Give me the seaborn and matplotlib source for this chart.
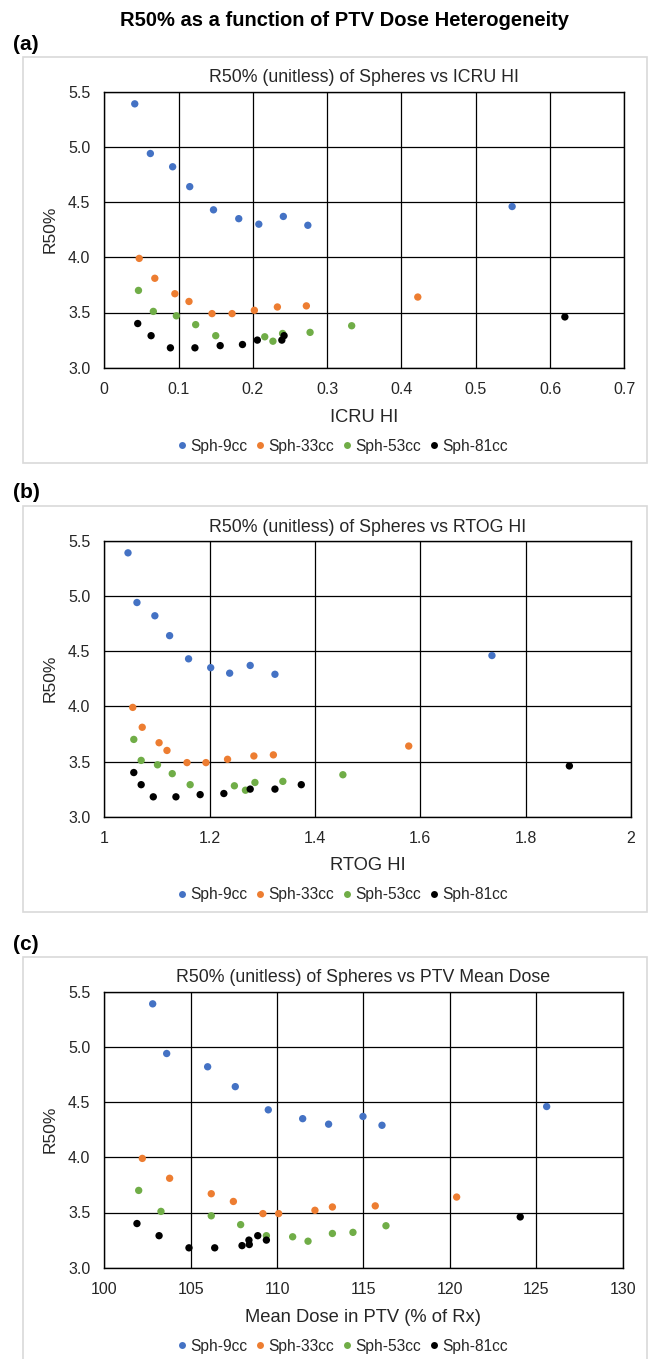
import matplotlib
matplotlib.use("Agg")
import matplotlib.pyplot as plt
from matplotlib.patches import Rectangle
from matplotlib.lines import Line2D
import seaborn as sns
import pandas as pd

# ---------------- data ----------------
spheres = ["Sph-9cc", "Sph-33cc", "Sph-53cc", "Sph-81cc"]

r50_9cc = [5.39, 4.94, 4.82, 4.64, 4.43, 4.35, 4.30, 4.37, 4.29, 4.46]
r50_33cc = [3.99, 3.81, 3.67, 3.60, 3.49, 3.49, 3.52, 3.55, 3.56, 3.64]
r50_53cc = [3.70, 3.51, 3.47, 3.39, 3.29, 3.28, 3.24, 3.31, 3.32, 3.38]
r50_81cc = [3.40, 3.29, 3.18, 3.18, 3.20, 3.21, 3.25, 3.25, 3.29, 3.46]

icru_9cc = [0.041, 0.062, 0.092, 0.115, 0.147, 0.181, 0.208, 0.241, 0.274, 0.549]
icru_33cc = [0.047, 0.068, 0.095, 0.114, 0.145, 0.172, 0.202, 0.233, 0.272, 0.422]
icru_53cc = [0.046, 0.066, 0.097, 0.123, 0.150, 0.216, 0.227, 0.240, 0.277, 0.333]
icru_81cc = [0.045, 0.063, 0.089, 0.122, 0.156, 0.186, 0.206, 0.239, 0.242, 0.620]

rtog_9cc = [1.045, 1.062, 1.096, 1.124, 1.160, 1.202, 1.238, 1.277, 1.324, 1.736]
rtog_33cc = [1.054, 1.072, 1.104, 1.119, 1.157, 1.193, 1.234, 1.284, 1.321, 1.578]
rtog_53cc = [1.056, 1.070, 1.101, 1.129, 1.163, 1.247, 1.268, 1.286, 1.339, 1.453]
rtog_81cc = [1.056, 1.070, 1.093, 1.136, 1.182, 1.227, 1.277, 1.324, 1.374, 1.883]

dose_9cc = [102.80, 103.61, 105.98, 107.58, 109.49, 111.48, 112.98, 114.97, 116.07, 125.60]
dose_33cc = [102.20, 103.78, 106.19, 107.47, 109.18, 110.09, 112.19, 113.20, 115.68, 120.39]
dose_53cc = [101.99, 103.28, 106.19, 107.89, 109.38, 110.90, 111.79, 113.20, 114.39, 116.30]
dose_81cc = [101.89, 103.17, 104.90, 106.39, 107.97, 108.39, 108.37, 109.38, 108.88, 124.07]

xticks_a = [0, 0.1, 0.2, 0.3, 0.4, 0.5, 0.6, 0.7]
xticklabels_a = ["0", "0.1", "0.2", "0.3", "0.4", "0.5", "0.6", "0.7"]
xticks_b = [1, 1.2, 1.4, 1.6, 1.8, 2]
xticklabels_b = ["1", "1.2", "1.4", "1.6", "1.8", "2"]
xticks_c = [100, 105, 110, 115, 120, 125, 130]
xticklabels_c = ["100", "105", "110", "115", "120", "125", "130"]
yticks = [3.0, 3.5, 4.0, 4.5, 5.0, 5.5]
yticklabels = ["3.0", "3.5", "4.0", "4.5", "5.0", "5.5"]

colors = {"Sph-9cc": "#4472C4", "Sph-33cc": "#ED7D31",
          "Sph-53cc": "#70AD47", "Sph-81cc": "#000000"}

r50 = [r50_9cc, r50_33cc, r50_53cc, r50_81cc]
panels = [
    dict(tag="(a)", title="R50% (unitless) of Spheres vs ICRU HI", xlabel="ICRU HI",
         xs=[icru_9cc, icru_33cc, icru_53cc, icru_81cc], xlim=(0, 0.7),
         xticks=xticks_a, xtl=xticklabels_a, right=624.3),
    dict(tag="(b)", title="R50% (unitless) of Spheres vs RTOG HI", xlabel="RTOG HI",
         xs=[rtog_9cc, rtog_33cc, rtog_53cc, rtog_81cc], xlim=(1, 2),
         xticks=xticks_b, xtl=xticklabels_b, right=631.0),
    dict(tag="(c)", title="R50% (unitless) of Spheres vs PTV Mean Dose",
         xlabel="Mean Dose in PTV (% of Rx)",
         xs=[dose_9cc, dose_33cc, dose_53cc, dose_81cc], xlim=(100, 130),
         xticks=xticks_c, xtl=xticklabels_c, right=622.7),
]

# ---------------- style ----------------
sns.set_theme(style="white")
plt.rcParams["font.family"] = ["Liberation Sans", "DejaVu Sans"]

W, H = 653, 1359
fig = plt.figure(figsize=(W / 100, H / 100), dpi=100)
fig.patch.set_facecolor("white")

def fx(px):
    return px / W

def fy(py):
    return 1 - py / H

fig.text(fx(344), fy(20), "R50% as a function of PTV Dose Heterogeneity",
         ha="center", va="center", fontsize=14.5, fontweight="bold", color="#000000")

offsets = [0, 449, 900]
for p, o in zip(panels, offsets):
    # chart-area frame
    fig.patches.append(Rectangle((fx(23), fy(463 + o)), fx(647) - fx(23),
                                 fy(57 + o) - fy(463 + o), transform=fig.transFigure,
                                 fill=False, edgecolor="#d9d9d9", lw=1.2, zorder=0))
    fig.text(fx(13), fy(44 + o), p["tag"], ha="left", va="center",
             fontsize=15, fontweight="bold", color="#000000")

    left, top, bottom = 104.3, 91.7 + o, 367.7 + o
    ax = fig.add_axes([fx(left), fy(bottom), fx(p["right"]) - fx(left),
                       fy(top) - fy(bottom)])

    rows = []
    for name, xv, yv in zip(spheres, p["xs"], r50):
        for a, b in zip(xv, yv):
            rows.append((name, a, b))
    df = pd.DataFrame(rows, columns=["sphere", "x", "r50"])
    sns.scatterplot(data=df, x="x", y="r50", hue="sphere", palette=colors,
                    hue_order=spheres, s=28, linewidth=0, legend=False, ax=ax,
                    zorder=3)

    ax.set_xlim(*p["xlim"])
    ax.set_ylim(3.0, 5.5)
    ax.set_xticks(p["xticks"])
    ax.set_xticklabels(p["xtl"])
    ax.set_yticks(yticks)
    ax.set_yticklabels(yticklabels)
    ax.tick_params(axis="both", length=0, labelsize=11.5, colors="#262626")
    ax.tick_params(axis="x", pad=10)
    ax.tick_params(axis="y", pad=10)
    ax.grid(True, color="#000000", lw=0.9)
    ax.set_axisbelow(True)
    for sp in ax.spines.values():
        sp.set_visible(True)
        sp.set_color("#000000")
        sp.set_linewidth(1.0)
    ax.set_xlabel("")
    ax.set_ylabel("")

    cx = (left + p["right"]) / 2
    fig.text(fx(cx), fy(78 + o), p["title"], ha="center", va="center",
             fontsize=12.8, color="#262626")
    fig.text(fx(cx), fy(417 + o), p["xlabel"], ha="center", va="center",
             fontsize=13.2, color="#262626")
    fig.text(fx(50), fy((top + bottom) / 2), "R50%", ha="center", va="center",
             rotation=90, fontsize=12.5, color="#262626")

    handles = [Line2D([], [], marker="o", linestyle="", markersize=5.0,
                      markerfacecolor=colors[s], markeredgewidth=0, label=s)
               for s in spheres]
    fig.legend(handles=handles, loc="center", bbox_to_anchor=(fx(343), fy(446 + o)),
               ncol=4, frameon=False, fontsize=11.2, handlelength=0.5,
               handletextpad=0.3, columnspacing=0.55, borderpad=0,
               labelcolor="#262626")

fig.savefig("out.png", dpi=100, facecolor="white")
